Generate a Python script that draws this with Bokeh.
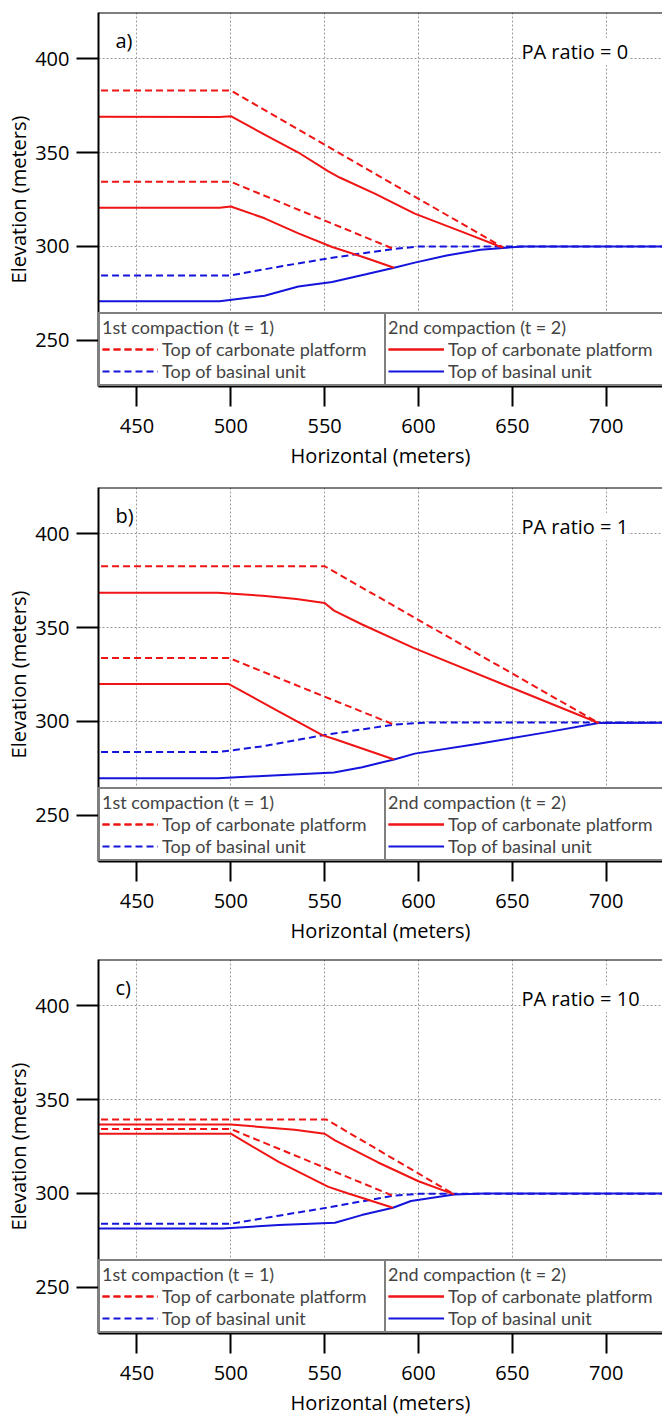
from bokeh.plotting import figure
from bokeh.models import Legend, LegendItem, Label, Span, FixedTicker, Range1d
from bokeh.layouts import column
from bokeh.embed import file_html
from bokeh.resources import INLINE

FONT = "Open Sans"
LEG_FONT = "Lato"
RED = "#f01414"
BLUE = "#1414dc"

x_ticks = [450, 500, 550, 600, 650, 700]
y_ticks = [250, 300, 350, 400]
x_title = "Horizontal (meters)"
y_title = "Elevation (meters)"
legend_titles = ["1st compaction (t = 1)", "2nd compaction (t = 2)"]
legend_labels = ["Top of carbonate platform", "Top of basinal unit"]

# ---------------- panel a : PA ratio = 0 ----------------
a_t1_plat_hi_x = [425, 500, 645]
a_t1_plat_hi_y = [383, 383, 299.5]
a_t1_plat_lo_x = [425, 500, 587]
a_t1_plat_lo_y = [334.4, 334.4, 298.6]
a_t2_plat_hi_x = [425, 494, 500, 518, 536, 552, 558, 577, 598, 624, 645]
a_t2_plat_hi_y = [369, 368.9, 369.3, 359.5, 350, 340, 336.7, 328, 317.5, 307.5, 299.3]
a_t2_plat_lo_x = [425, 494, 500, 518, 536, 554, 572, 587]
a_t2_plat_lo_y = [320.6, 320.6, 321.3, 315, 307, 299.7, 293.9, 288.7]
a_t1_basin_x = [425, 500, 527, 554, 586, 600, 740]
a_t1_basin_y = [284.6, 284.6, 289.5, 294, 298.6, 300, 300]
a_t2_basin_x = [425, 494, 518, 536, 554, 572, 587, 598, 615, 633, 645, 656, 740]
a_t2_basin_y = [270.8, 270.8, 273.8, 278.7, 281.1, 285.2, 288.7, 291.4, 295.2, 298.3, 299.2, 300, 300]

# ---------------- panel b : PA ratio = 1 ----------------
b_t1_plat_hi_x = [425, 550, 696]
b_t1_plat_hi_y = [382.6, 382.6, 299.2]
b_t1_plat_lo_x = [425, 499, 587]
b_t1_plat_lo_y = [333.8, 333.8, 298.3]
b_t2_plat_hi_x = [425, 493, 517, 535, 550, 555, 570, 597, 650, 696]
b_t2_plat_hi_y = [368.5, 368.5, 366.9, 365.2, 363, 359, 351.6, 339.3, 317.8, 299.2]
b_t2_plat_lo_x = [425, 499, 524, 549, 556, 587]
b_t2_plat_lo_y = [319.9, 319.9, 306.2, 292.6, 290.4, 279.8]
b_t1_basin_x = [425, 493, 517, 551, 587, 605, 740]
b_t1_basin_y = [283.7, 283.7, 286.8, 293, 298.3, 299.5, 299.5]
b_t2_basin_x = [425, 493, 517, 555, 570, 587, 598, 632, 668, 696, 740]
b_t2_basin_y = [269.8, 269.8, 271, 272.8, 275.7, 279.8, 282.9, 288.1, 294.2, 299.2, 299.3]

# ---------------- panel c : PA ratio = 10 ----------------
c_t1_plat_hi_x = [425, 551, 619]
c_t1_plat_hi_y = [339.3, 339.3, 299.5]
c_t1_plat_lo_x = [425, 500, 586.4]
c_t1_plat_lo_y = [334.3, 334.3, 298.8]
c_t2_plat_hi_x = [425, 500, 534, 550, 555.5, 578.5, 600, 619]
c_t2_plat_hi_y = [336.7, 336.7, 333.9, 331.8, 328.3, 316.5, 306.5, 299.5]
c_t2_plat_lo_x = [425, 500, 525.5, 552, 562.6, 586.4]
c_t2_plat_lo_y = [331.8, 331.8, 316.8, 303.5, 300, 292.4]
c_t1_basin_x = [425, 500, 525.5, 551, 586.4, 600.6, 740]
c_t1_basin_y = [283.9, 283.9, 288.2, 292.4, 298.8, 299.8, 299.8]
c_t2_basin_x = [425, 495.5, 525.5, 555.5, 569.7, 586.4, 596, 619, 635, 740]
c_t2_basin_y = [281.4, 281.4, 283.2, 284.4, 288.5, 292.4, 296, 299.5, 300, 300]

X0, X1 = 429.5, 730
Y0, Y1 = 225.5, 424.5
FW, FH = 564, 374


def make_panel(tag, pa_text, series, top, bottom):
    p = figure(frame_width=FW, frame_height=FH,
               x_range=Range1d(X0, X1), y_range=Range1d(Y0, Y1),
               output_backend="svg", toolbar_location=None,
               min_border_left=98, min_border_right=0,
               min_border_top=top, min_border_bottom=bottom)
    p.outline_line_color = None
    p.background_fill_color = "white"
    p.border_fill_color = "white"

    for ax, ticks in ((p.xaxis[0], x_ticks), (p.yaxis[0], y_ticks)):
        ax.ticker = FixedTicker(ticks=ticks)
        ax.axis_line_width = 2
        ax.axis_line_color = "black"
        ax.major_tick_line_width = 2
        ax.major_tick_line_color = "black"
        ax.major_tick_in = 0
        ax.minor_tick_in = 0
        ax.minor_tick_out = 0
        ax.major_label_text_font = FONT
        ax.major_label_text_font_size = "20px"
        ax.major_label_text_color = "black"
        ax.axis_label_text_font = FONT
        ax.axis_label_text_font_size = "20px"
        ax.axis_label_text_font_style = "normal"
        ax.axis_label_text_color = "black"
    p.xaxis.major_tick_out = 20
    p.yaxis.major_tick_out = 22
    p.xaxis.major_label_standoff = 12
    p.yaxis.major_label_standoff = 7
    p.xaxis.axis_label_standoff = 6
    p.yaxis.axis_label_standoff = 0
    p.xaxis.axis_label = x_title
    p.yaxis.axis_label = y_title

    p.xgrid.ticker = FixedTicker(ticks=x_ticks)
    p.ygrid.ticker = FixedTicker(ticks=y_ticks)
    for g in (p.xgrid[0], p.ygrid[0]):
        g.grid_line_color = "#9a9a9a"
        g.grid_line_dash = "2 2"
        g.grid_line_width = 1

    rs = {}
    for key in ["t1_basin", "t2_basin", "t1_plat_lo", "t2_plat_lo", "t1_plat_hi", "t2_plat_hi"]:
        xs, ys = series[key]
        color = RED if "plat" in key else BLUE
        dash = "solid" if key.startswith("t2") else "7 4"
        rs[key] = p.line(xs, ys, line_color=color, line_width=2, line_dash=dash)

    p.add_layout(Span(location=Y1, dimension="width", line_color="black", line_width=2))

    lab_kw = dict(text_font=FONT, text_font_size="20px", text_color="black",
                  text_baseline="middle", text_align="left",
                  background_fill_color="white", background_fill_alpha=1.0)
    ux = (X1 - X0) / FW
    uy = (Y1 - Y0) / FH
    p.add_layout(Label(x=X0 + 17 * ux, y=Y1 - 28 * uy, text=tag, **lab_kw))
    p.add_layout(Label(x=X0 + 423 * ux, y=Y1 - 39 * uy, text=pa_text, **lab_kw))

    leg_kw = dict(label_text_font=LEG_FONT, label_text_font_size="18px",
                  title_text_font=LEG_FONT, title_text_font_size="18px",
                  title_text_font_style="normal", title_standoff=0,
                  glyph_width=56, glyph_height=20, label_height=20,
                  label_standoff=4, label_width=222, spacing=0, padding=2,
                  margin=0, border_line_color="black", border_line_width=2,
                  background_fill_color="white", background_fill_alpha=1.0)
    leg1 = Legend(title=legend_titles[0], location=(0, 0), items=[
        LegendItem(label=legend_labels[0], renderers=[rs["t1_plat_hi"], rs["t1_plat_lo"]]),
        LegendItem(label=legend_labels[1], renderers=[rs["t1_basin"]]),
    ], **leg_kw)
    leg2 = Legend(title=legend_titles[1], location=(286, 0), items=[
        LegendItem(label=legend_labels[0], renderers=[rs["t2_plat_hi"], rs["t2_plat_lo"]]),
        LegendItem(label=legend_labels[1], renderers=[rs["t2_basin"]]),
    ], **leg_kw)
    p.add_layout(leg1)
    p.add_layout(leg2)
    return p


pa = make_panel("a)", "PA ratio = 0", {
    "t1_plat_hi": (a_t1_plat_hi_x, a_t1_plat_hi_y), "t1_plat_lo": (a_t1_plat_lo_x, a_t1_plat_lo_y),
    "t2_plat_hi": (a_t2_plat_hi_x, a_t2_plat_hi_y), "t2_plat_lo": (a_t2_plat_lo_x, a_t2_plat_lo_y),
    "t1_basin": (a_t1_basin_x, a_t1_basin_y), "t2_basin": (a_t2_basin_x, a_t2_basin_y)}, 12, 88)
pb = make_panel("b)", "PA ratio = 1", {
    "t1_plat_hi": (b_t1_plat_hi_x, b_t1_plat_hi_y), "t1_plat_lo": (b_t1_plat_lo_x, b_t1_plat_lo_y),
    "t2_plat_hi": (b_t2_plat_hi_x, b_t2_plat_hi_y), "t2_plat_lo": (b_t2_plat_lo_x, b_t2_plat_lo_y),
    "t1_basin": (b_t1_basin_x, b_t1_basin_y), "t2_basin": (b_t2_basin_x, b_t2_basin_y)}, 13, 87)
pc = make_panel("c)", "PA ratio = 10", {
    "t1_plat_hi": (c_t1_plat_hi_x, c_t1_plat_hi_y), "t1_plat_lo": (c_t1_plat_lo_x, c_t1_plat_lo_y),
    "t2_plat_hi": (c_t2_plat_hi_x, c_t2_plat_hi_y), "t2_plat_lo": (c_t2_plat_lo_x, c_t2_plat_lo_y),
    "t1_basin": (c_t1_basin_x, c_t1_basin_y), "t2_basin": (c_t2_basin_x, c_t2_basin_y)}, 11, 81)

layout = column(pa, pb, pc, spacing=0)
open("out.html", "w").write(file_html(layout, INLINE))
